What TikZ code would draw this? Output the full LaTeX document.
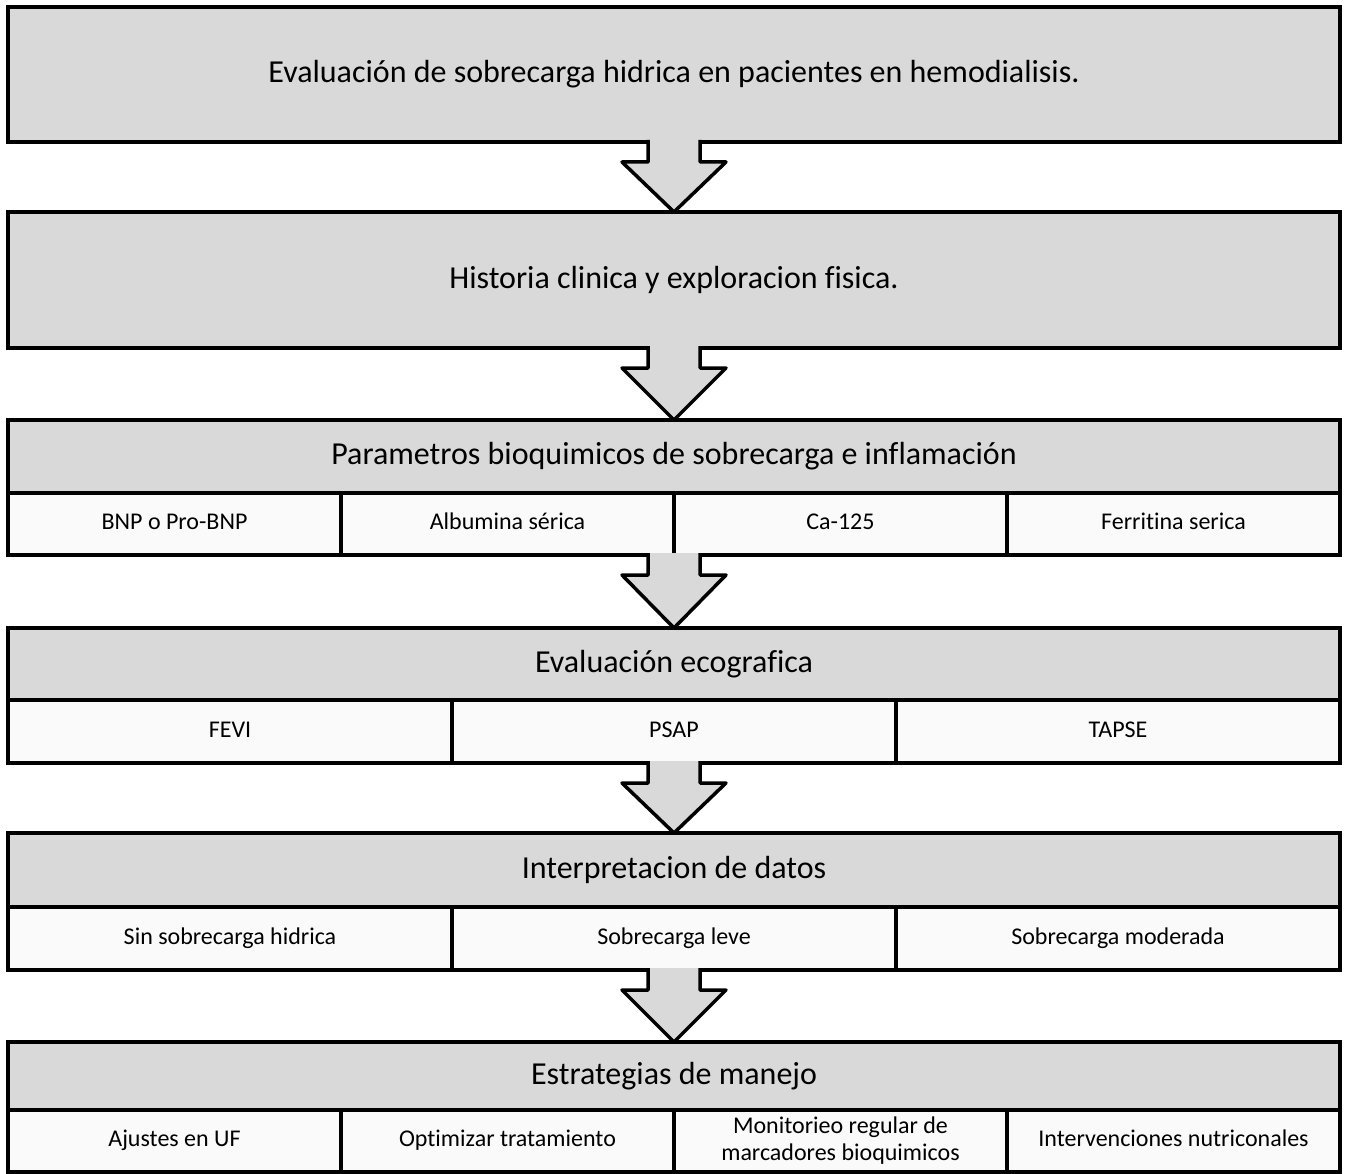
\documentclass[tikz,border=0pt]{standalone}
\usepackage{fontspec}
\setmainfont{Carlito}[Ligatures=NoCommon]
\definecolor{gris}{HTML}{D9D9D9}
\definecolor{fondocelda}{HTML}{FAFAFA}

\begin{document}
\begin{tikzpicture}[x=1pt,y=-1pt,
  caja/.style={draw, line width=3.5pt, fill=gris, outer sep=0pt, inner sep=2pt,
    minimum width=1332pt, align=center, font=\fontsize{32}{38}\selectfont},
  celda/.style={draw, line width=3.5pt, fill=fondocelda, outer sep=0pt, inner sep=2pt,
    minimum height=62pt, anchor=north west, align=center, text height=17pt, text depth=6pt,
    font=\fontsize{24}{28}\selectfont},
  flecha/.style={line width=3.5pt, line join=round}]
\useasboundingbox (0,0) rectangle (1348,1174);

\node[caja, minimum height=135pt] (b1) at (674,74.5) {Evaluación de sobrecarga hidrica en pacientes en hemodialisis.};
\node[caja, minimum height=136pt] (b2) at (674,280) {Historia clinica y exploracion fisica.};

% parametros bioquimicos
\node[caja, minimum height=73pt] (b3) at (674,456.5) {Parametros bioquimicos de sobrecarga e inflamación};
\node[celda, minimum width=333pt] (b3a) at (8,493) {BNP o Pro-BNP};
\node[celda, minimum width=333pt] (b3b) at (341,493) {Albumina sérica};
\node[celda, minimum width=333pt] (b3c) at (674,493) {Ca-125};
\node[celda, minimum width=333pt] (b3d) at (1007,493) {Ferritina serica};

% ecografia
\node[caja, minimum height=72pt] (b4) at (674,664) {Evaluación ecografica};
\node[celda, minimum width=444pt, minimum height=63pt] (b4a) at (8,700) {FEVI};
\node[celda, minimum width=444pt, minimum height=63pt] (b4b) at (452,700) {PSAP};
\node[celda, minimum width=444pt, minimum height=63pt] (b4c) at (896,700) {TAPSE};

% interpretacion
\node[caja, minimum height=74pt] (b5) at (674,870) {Interpretacion de datos};
\node[celda, minimum width=444pt, minimum height=63pt] (b5a) at (8,907) {Sin sobrecarga hidrica};
\node[celda, minimum width=444pt, minimum height=63pt] (b5b) at (452,907) {Sobrecarga leve};
\node[celda, minimum width=444pt, minimum height=63pt] (b5c) at (896,907) {Sobrecarga moderada};

% manejo
\node[caja, minimum height=68pt] (b6) at (674,1076) {Estrategias de manejo};
\node[celda, minimum width=333pt] (b6a) at (8,1110) {Ajustes en UF};
\node[celda, minimum width=333pt] (b6b) at (341,1110) {Optimizar tratamiento};
\node[celda, minimum width=333pt, text height=, text depth=, font=\fontsize{24}{27}\selectfont] (b6c) at (674,1110) {Monitorieo regular de\\marcadores bioquimicos};
\node[celda, minimum width=333pt] (b6d) at (1007,1110) {Intervenciones nutriconales};

\coordinate (p3) at (b3 |- b3a.south);
\coordinate (p4) at (b4 |- b4a.south);
\coordinate (p5) at (b5 |- b5a.south);

% flechas gruesas
\foreach \desde/\hasta in {b1.south/b2, b2.south/b3, p3/b4, p4/b5, p5/b6}{
  \fill[gris] ([xshift=-26pt,yshift=2pt]\desde) -- ([xshift=-26pt,yshift=-20pt]\desde)
    -- ([xshift=-52pt,yshift=-20pt]\desde) -- (\hasta.north)
    -- ([xshift=52pt,yshift=-20pt]\desde) -- ([xshift=26pt,yshift=-20pt]\desde)
    -- ([xshift=26pt,yshift=2pt]\desde) -- cycle;
  \draw[flecha] ([xshift=-26pt,yshift=2pt]\desde) -- ([xshift=-26pt,yshift=-20pt]\desde)
    -- ([xshift=-52pt,yshift=-20pt]\desde) -- (\hasta.north)
    -- ([xshift=52pt,yshift=-20pt]\desde) -- ([xshift=26pt,yshift=-20pt]\desde)
    -- ([xshift=26pt,yshift=2pt]\desde);
}
\end{tikzpicture}
\end{document}
